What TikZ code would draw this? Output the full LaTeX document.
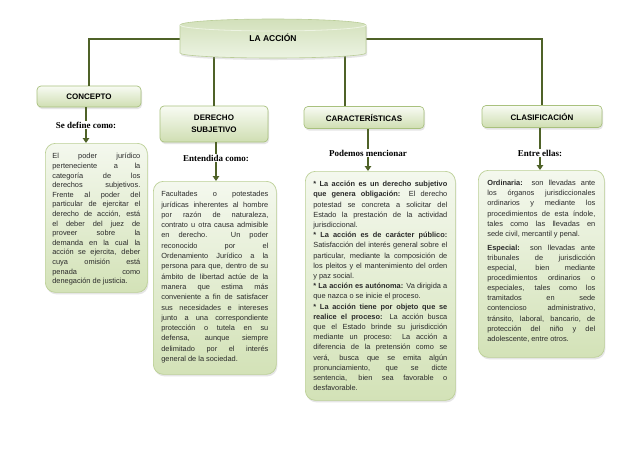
\documentclass[tikz,border=0pt]{standalone}
\usepackage{fontspec}
\setmainfont{Liberation Sans}
\newfontfamily\lblfont{Liberation Serif}
\usetikzlibrary{arrows.meta,shadows}
\definecolor{lineol}{HTML}{4F6228}
\definecolor{boxtop}{HTML}{F4F8EE}
\definecolor{boxbot}{HTML}{D3E2B7}
\definecolor{boxbrd}{HTML}{BCD096}
\definecolor{hdrtop}{HTML}{F8FBF3}
\definecolor{hdrbot}{HTML}{CFDEB2}
\definecolor{hdrbrd}{HTML}{A9C17E}
\definecolor{acctop}{HTML}{D2E0BA}
\definecolor{accbot}{HTML}{ECF3E2}
\definecolor{txtc}{HTML}{2A2A2A}
\newcommand\J[1]{\hbox to\hsize{#1}}
\newcommand\E[1]{\hbox to\hsize{#1\hfil}}
\begin{document}
\begin{tikzpicture}[x=1pt,y=-1pt,
  shad/.style={drop shadow={shadow xshift=1pt,shadow yshift=-2pt,opacity=0.25,fill=black!40}},
  hdr/.style={draw=hdrbrd, line width=0.7pt, rounded corners=4pt, top color=hdrtop, bottom color=hdrbot,
    font=\bfseries\fontsize{8}{12}\selectfont, align=center, inner sep=0pt, shad},
  tbox/.style={draw=boxbrd, line width=0.7pt, rounded corners=10pt, top color=boxtop, bottom color=boxbot,
    inner xsep=8pt, inner ysep=10pt, anchor=north west, text=txtc, font=\fontsize{7.4}{10.2}\selectfont, shad},
  lbl/.style={font=\lblfont\bfseries\fontsize{9}{10}\selectfont, inner sep=1pt},
  conn/.style={draw=lineol, line width=1.5pt},
  stub/.style={draw=lineol, line width=2.2pt},
  arr/.style={stub, -{Triangle[width=6.5pt,length=5pt]}}]
\useasboundingbox (0,0) rectangle (638,451);
\fill[white] (0,0) rectangle (638,451);

% headers
\node[hdr, minimum width=104pt, minimum height=21pt] (concepto) at (89,96.5) {CONCEPTO};
\node[hdr, minimum width=108pt, minimum height=36pt] (ds) at (214,124) {DERECHO\\SUBJETIVO};
\node[hdr, minimum width=120pt, minimum height=22pt] (car) at (364,117.5) {CARACTERÍSTICAS};
\node[hdr, minimum width=120pt, minimum height=22pt] (clas) at (542,116.5) {CLASIFICACIÓN};

% top node
\node[minimum width=186pt, minimum height=40pt, inner sep=0pt] (accbox) at (273,39) {};
\coordinate (cartop) at (345,0);
\draw[conn] (accbox.west) -| (concepto.north);
\draw[conn] (accbox.east) -| (clas.north);
\draw[conn] (accbox.center -| ds.north) -- (ds.north);
\draw[conn] (accbox.center -| cartop) -- (car.north -| cartop);
\path[draw=hdrbrd!80, line width=0.6pt, top color=acctop, bottom color=accbot, shad]
  (180,25) -- (180,53) arc[start angle=180,end angle=360,x radius=93pt,y radius=5pt]
  -- (366,25) arc[start angle=0,end angle=180,x radius=93pt,y radius=6pt] -- cycle;
\draw[white!60!acctop, line width=0.8pt] (366,25) arc[start angle=0,end angle=-180,x radius=93pt,y radius=6pt];
\node[font=\bfseries\fontsize{8.5}{10}\selectfont, inner sep=0pt] (acc) at (273,38) {LA ACCIÓN};

% labels
\node[lbl] (l1) at (86,125) {Se define como:};
\node[lbl] (l2) at (216,158) {Entendida como:};
\node[lbl] (l3) at (368,153) {Podemos mencionar};
\node[lbl] (l4) at (540,153) {Entre ellas:};

% text boxes
\node[tbox, inner xsep=7pt, font=\fontsize{7.4}{9.6}\selectfont] (b1) at (45,143) {\parbox[t][129pt][t]{88pt}{%
\J{El poder jurídico}
\J{perteneciente a la}
\J{categoría de los}
\J{derechos subjetivos.}
\J{Frente al poder del}
\J{particular de ejercitar el}
\J{derecho de acción, está}
\J{el deber del juez de}
\J{proveer sobre la}
\J{demanda en la cual la}
\J{acción se ejercita, deber}
\J{cuya omisión está}
\J{penada como}
\E{denegación de justicia.}}};

\node[tbox, font=\fontsize{7.4}{10.3}\selectfont] (b2) at (153,181) {\parbox[t][173pt][t]{107pt}{%
\J{Facultades o potestades}
\J{jurídicas inherentes al hombre}
\J{por razón de naturaleza,}
\J{contrato u otra causa admisible}
\J{en derecho. Un poder}
\J{reconocido por el}
\J{Ordenamiento Jurídico a la}
\J{persona para que, dentro de su}
\J{ámbito de libertad actúe de la}
\J{manera que estima más}
\J{conveniente a fin de satisfacer}
\J{sus necesidades e intereses}
\J{junto a una correspondiente}
\J{protección o tutela en su}
\J{defensa, aunque siempre}
\J{delimitado por el interés}
\E{general de la sociedad.}}};

\node[tbox] (b3) at (305,171) {\parbox[t][209pt][t]{134pt}{%
\J{\textbf{* La acción es un derecho subjetivo}}
\J{\textbf{que genera obligación:} El derecho}
\J{potestad se concreta a solicitar del}
\J{Estado la prestación de la actividad}
\E{jurisdiccional.}
\J{\textbf{* La acción es de carácter público:}}
\J{Satisfacción del interés general sobre el}
\J{particular, mediante la composición de}
\J{los pleitos y el mantenimiento del orden}
\E{y paz social.}
\J{\textbf{* La acción es autónoma:} Va dirigida a}
\E{que nazca o se inicie el proceso.}
\J{\textbf{* La acción tiene por objeto que se}}
\J{\textbf{realice el proceso:} La acción busca}
\J{que el Estado brinde su jurisdicción}
\J{mediante un proceso: La acción a}
\J{diferencia de la pretensión como se}
\J{verá, busca que se emita algún}
\J{pronunciamiento, que se dicte}
\J{sentencia, bien sea favorable o}
\E{desfavorable.}}};

\node[tbox, inner xsep=9pt, font=\fontsize{7.4}{10.1}\selectfont] (b4) at (478,170) {\parbox[t][167pt][t]{108pt}{%
\J{\textbf{Ordinaria:} son llevadas ante}
\J{los órganos jurisdiccionales}
\J{ordinarios y mediante los}
\J{procedimientos de esta índole,}
\J{tales como las llevadas en}
\E{sede civil, mercantil y penal.}
\vskip 4pt
\J{\textbf{Especial:} son llevadas ante}
\J{tribunales de jurisdicción}
\J{especial, bien mediante}
\J{procedimientos ordinarios o}
\J{especiales, tales como los}
\J{tramitados en sede}
\J{contencioso administrativo,}
\J{tránsito, laboral, bancario, de}
\J{protección del niño y del}
\E{adolescente, entre otros.}}};

% stubs and arrows
\draw[stub] (concepto.south -| l1.north) -- (l1.north);
\draw[arr] (l1.south) -- (l1.south |- b1.north);
\draw[stub] (ds.south -| l2.north) -- (l2.north);
\draw[arr] (l2.south) -- (l2.south |- b2.north);
\draw[stub] (car.south -| l3.north) -- (l3.north);
\draw[arr] (l3.south) -- (l3.south |- b3.north);
\draw[stub] (clas.south -| l4.north) -- (l4.north);
\draw[arr] (l4.south) -- (l4.south |- b4.north);
\end{tikzpicture}
\end{document}
